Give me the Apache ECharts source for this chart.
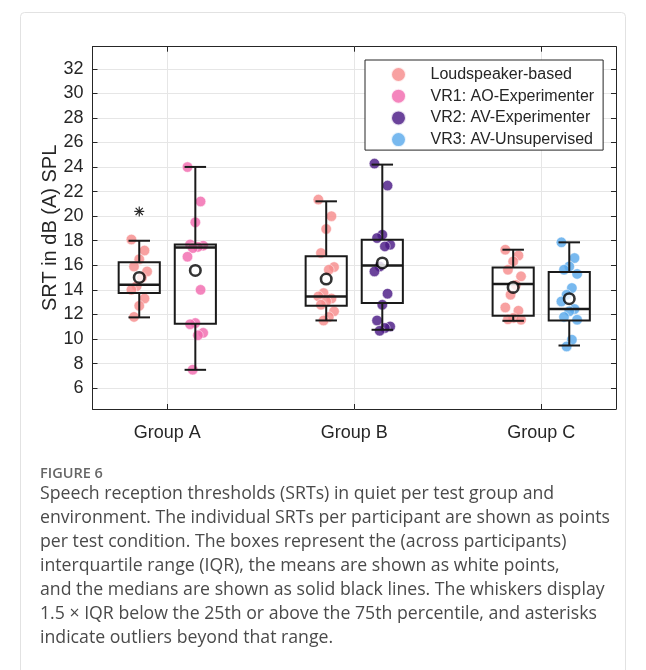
<!DOCTYPE html>
<html>
<head>
<meta charset="utf-8">
<script src="https://cdn.jsdelivr.net/npm/echarts@6/dist/echarts.min.js"></script>
<style>
html,body{margin:0;padding:0;background:#fff;}
#chart{width:646px;height:670px;}
</style>
</head>
<body>
<div id="chart"></div>
<script>
// ---------- data ----------
const groups = ['Group A', 'Group B', 'Group C'];
const yTicks = [6, 8, 10, 12, 14, 16, 18, 20, 22, 24, 26, 28, 30, 32];
const conditions = ['Loudspeaker-based', 'VR1: AO-Experimenter', 'VR2: AV-Experimenter', 'VR3: AV-Unsupervised'];
const condColors = ['#F78C8C', '#F26AAE', '#4A1A85', '#5AAAEB'];

// boxes: group (1..3), condition index, side (-1 left, +1 right)
const boxGroup = [1, 1, 2, 2, 3, 3];
const boxCond  = [0, 1, 0, 2, 0, 3];
const boxSide  = [-1, 1, -1, 1, -1, 1];
const whiskerLow  = [11.76, 7.49, 11.51, 10.75, 11.48, 9.47];
const quart1      = [13.74, 11.24, 12.71, 12.93, 11.89, 11.51];
const medians     = [14.42, 17.46, 13.47, 15.99, 14.47, 12.44];
const quart3      = [16.24, 17.70, 16.73, 18.09, 15.83, 15.45];
const whiskerHigh = [18.00, 24.01, 21.21, 24.20, 17.27, 17.87];
const means       = [15.01, 15.58, 14.88, 16.19, 14.20, 13.28];
const outlierBox  = [0];
const outlierVal  = [20.39];

// individual SRTs per box
const ptsLS_A  = [18.1, 17.2, 16.5, 15.9, 15.5, 15.0, 14.3, 14.0, 13.3, 12.7, 11.8];
const ptsVR1_A = [24.0, 21.2, 19.5, 17.7, 17.6, 17.5, 17.4, 16.7, 14.0, 11.3, 11.2, 10.5, 10.3, 7.5];
const ptsLS_B  = [21.35, 20.0, 18.96, 17.0, 15.86, 15.64, 13.74, 13.47, 13.3, 13.06, 12.79, 12.25, 11.79, 11.5];
const ptsVR2_B = [24.28, 22.49, 18.49, 18.22, 17.68, 17.54, 15.91, 15.5, 13.69, 12.79, 11.51, 11.02, 10.9, 10.67];
const ptsLS_C  = [17.27, 16.8, 16.32, 15.64, 15.1, 14.4, 13.6, 12.57, 12.3, 11.71, 11.6, 11.57];
const ptsVR3_C = [17.87, 16.59, 15.91, 15.64, 15.3, 14.15, 13.6, 13.06, 12.44, 12.25, 11.8, 11.57, 9.94, 9.39];
const boxPoints = [ptsLS_A, ptsVR1_A, ptsLS_B, ptsVR2_B, ptsLS_C, ptsVR3_C];

// ---------- layout constants ----------
const OFFSET = 0.15, BOX_W = 0.22, CAP_W = 0.115;
const FONT = '"Liberation Sans", Arial, sans-serif';
const TXT = '#262626';

function boxX(i) { return boxGroup[i] + boxSide[i] * OFFSET; }
function jitter(j) { return (((j * 5) % 7) - 3) * 0.014; }

// scatter series per condition
const scatterSeries = conditions.map((name, c) => {
  const data = [];
  boxPoints.forEach((pts, b) => {
    if (boxCond[b] !== c) return;
    pts.forEach((v, j) => data.push([boxX(b) + jitter(j), v]));
  });
  return {
    name, type: 'scatter', data, symbol: 'circle', symbolSize: 10.5, z: 2,
    itemStyle: { color: condColors[c], opacity: 0.82, borderColor: '#fff', borderWidth: 0.6 },
    emphasis: { disabled: true }
  };
});

const boxData = boxGroup.map((g, i) => [boxX(i), whiskerLow[i], quart1[i], medians[i], quart3[i], whiskerHigh[i]]);

const boxSeries = {
  type: 'custom', z: 3, silent: true,
  data: boxData,
  encode: { x: 0, y: [1, 2, 3, 4, 5] },
  renderItem(params, api) {
    const x = api.value(0);
    const half = api.size([BOX_W, 0])[0] / 2;
    const cap = api.size([CAP_W, 0])[0] / 2;
    const pLo = api.coord([x, api.value(1)]);
    const pQ1 = api.coord([x, api.value(2)]);
    const pMd = api.coord([x, api.value(3)]);
    const pQ3 = api.coord([x, api.value(4)]);
    const pHi = api.coord([x, api.value(5)]);
    const cx = pMd[0];
    const st = { stroke: '#1a1a1a', lineWidth: 2, fill: null };
    return {
      type: 'group', children: [
        { type: 'line', shape: { x1: cx, y1: pHi[1], x2: cx, y2: pQ3[1] }, style: st },
        { type: 'line', shape: { x1: cx, y1: pQ1[1], x2: cx, y2: pLo[1] }, style: st },
        { type: 'line', shape: { x1: cx - cap, y1: pHi[1], x2: cx + cap, y2: pHi[1] }, style: st },
        { type: 'line', shape: { x1: cx - cap, y1: pLo[1], x2: cx + cap, y2: pLo[1] }, style: st },
        { type: 'rect', shape: { x: cx - half, y: pQ3[1], width: 2 * half, height: pQ1[1] - pQ3[1] }, style: st },
        { type: 'line', shape: { x1: cx - half, y1: pMd[1], x2: cx + half, y2: pMd[1] }, style: { stroke: '#1a1a1a', lineWidth: 2.5 } }
      ]
    };
  }
};

const meanSeries = {
  type: 'scatter', z: 4, silent: true,
  data: means.map((m, i) => [boxX(i), m]),
  symbol: 'circle', symbolSize: 10.5,
  itemStyle: { color: '#fff', borderColor: '#000', borderWidth: 2.6 }
};

const outlierSeries = {
  type: 'custom', z: 4, silent: true,
  data: outlierBox.map((b, k) => [boxX(b), outlierVal[k]]),
  encode: { x: 0, y: 1 },
  renderItem(params, api) {
    const p = api.coord([api.value(0), api.value(1)]);
    const r = 5, d = r * 0.72;
    const st = { stroke: '#222', lineWidth: 1.1 };
    return {
      type: 'group', children: [
        { type: 'line', shape: { x1: p[0], y1: p[1] - r, x2: p[0], y2: p[1] + r }, style: st },
        { type: 'line', shape: { x1: p[0] - r, y1: p[1], x2: p[0] + r, y2: p[1] }, style: st },
        { type: 'line', shape: { x1: p[0] - d, y1: p[1] - d, x2: p[0] + d, y2: p[1] + d }, style: st },
        { type: 'line', shape: { x1: p[0] - d, y1: p[1] + d, x2: p[0] + d, y2: p[1] - d }, style: st }
      ]
    };
  }
};

const captionLines = [
  'Speech reception thresholds (SRTs) in quiet per test group and',
  'environment. The individual SRTs per participant are shown as points',
  'per test condition. The boxes represent the (across participants)',
  'interquartile range (IQR), the means are shown as white points,',
  'and the medians are shown as solid black lines. The whiskers display',
  '1.5 \u00d7 IQR below the 25th or above the 75th percentile, and asterisks',
  'indicate outliers beyond that range.'
];

const axisLineStyle = { color: '#262626', width: 1 };
const gridLine = { show: true, lineStyle: { color: '#e6e6e6', width: 1 } };

const option = {
  animation: false,
  backgroundColor: '#fff',
  grid: { left: 92.5, right: 30, top: 46.7, bottom: 261, containLabel: false },
  xAxis: [
    {
      type: 'value', min: 0.6, max: 3.4, position: 'bottom',
      axisLine: { show: true, lineStyle: axisLineStyle },
      axisTick: { show: true, inside: true, length: 5, customValues: [1, 2, 3], lineStyle: axisLineStyle },
      axisLabel: { customValues: [1, 2, 3], formatter: v => groups[Math.round(v) - 1] || '', color: TXT, fontSize: 18, fontFamily: FONT, margin: 15 },
      splitLine: gridLine
    },
    {
      type: 'value', min: 0.6, max: 3.4, position: 'top',
      axisLine: { show: true, lineStyle: axisLineStyle },
      axisTick: { show: true, inside: true, length: 5, customValues: [1, 2, 3], lineStyle: axisLineStyle },
      axisLabel: { show: false },
      splitLine: { show: false }
    }
  ],
  yAxis: [
    {
      type: 'value', min: 4.3, max: 33.8, position: 'left',
      name: 'SRT in dB (A) SPL', nameLocation: 'middle', nameRotate: 90, nameGap: 32,
      nameMoveOverlap: false,
      nameTextStyle: { color: TXT, fontSize: 20, fontFamily: FONT },
      axisLine: { show: true, lineStyle: axisLineStyle },
      axisTick: { show: true, inside: true, length: 5, customValues: yTicks, lineStyle: axisLineStyle },
      axisLabel: { customValues: yTicks, color: TXT, fontSize: 18, fontFamily: FONT, margin: 9 },
      splitLine: gridLine
    },
    {
      type: 'value', min: 4.3, max: 33.8, position: 'right',
      axisLine: { show: true, lineStyle: axisLineStyle },
      axisTick: { show: true, inside: true, length: 5, customValues: yTicks, lineStyle: axisLineStyle },
      axisLabel: { show: false },
      splitLine: { show: false }
    }
  ],
  legend: {
    data: conditions, orient: 'vertical', left: 365, top: 60,
    icon: 'circle', itemWidth: 46, itemHeight: 15, itemGap: 4.7,
    padding: [6, 9, 2, 25],
    backgroundColor: '#fff', borderColor: '#262626', borderWidth: 1,
    textStyle: { color: TXT, fontSize: 16, fontFamily: FONT, lineHeight: 16, padding: [0, 0, 0, 4] },
    selectedMode: false
  },
  series: [...scatterSeries, boxSeries, meanSeries, outlierSeries],
  graphic: [
    { type: 'rect', shape: { x: 20.5, y: 12.5, width: 605, height: 700, r: 4 }, style: { fill: null, stroke: '#e2e2e2', lineWidth: 1 }, silent: true, z: -10 },
    { type: 'text', left: 40, top: 466, style: { text: 'FIGURE 6', fill: '#666', font: '600 14.5px "Open Sans", sans-serif' } },
    ...captionLines.map((t, i) => ({
      type: 'text', left: 40, top: 485 + i * 24,
      style: { text: t, fill: '#4a4a4a', font: '17.7px "Open Sans", sans-serif' }
    }))
  ]
};

const chart = echarts.init(document.getElementById('chart'), null, { renderer: 'canvas' });
chart.setOption(option);
</script>
</body>
</html>
